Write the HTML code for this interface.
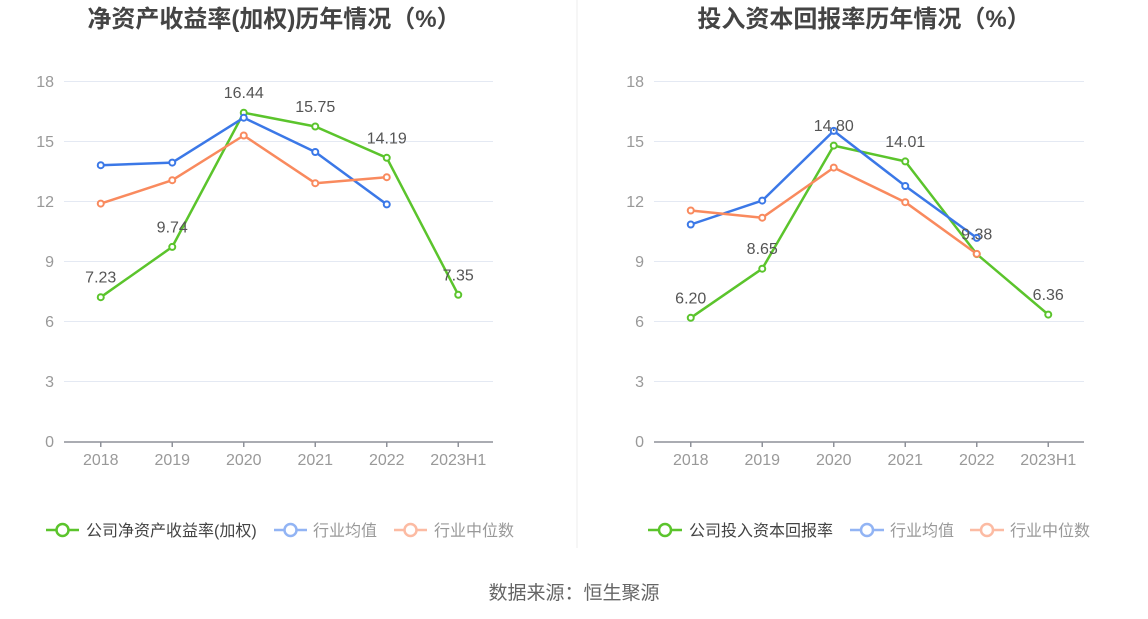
<!DOCTYPE html>
<html>
<head>
<meta charset="utf-8">
<style>
  html, body { margin:0; padding:0; background:#ffffff; }
  body { width:1148px; height:619px; overflow:hidden; }
  svg { display:block; }
  text { font-family: "Liberation Sans", "Noto Sans CJK SC", sans-serif; }
</style>
</head>
<body>
<svg width="1148" height="619" viewBox="0 0 1148 619" xmlns="http://www.w3.org/2000/svg">
  <rect x="0" y="0" width="1148" height="619" fill="#ffffff"/>
  <!-- separator -->
  <line x1="577" y1="0" x2="577" y2="548" stroke="#ececec" stroke-width="1"/>

  <!-- ===== LEFT CHART ===== -->
  <text x="274" y="27" text-anchor="middle" font-size="24" font-weight="bold" fill="#444">净资产收益率(加权)历年情况（%）</text>
  <g stroke="#e4e9f3" stroke-width="1">
    <line x1="64" y1="81.5" x2="493" y2="81.5"/>
    <line x1="64" y1="141.5" x2="493" y2="141.5"/>
    <line x1="64" y1="201.5" x2="493" y2="201.5"/>
    <line x1="64" y1="261.5" x2="493" y2="261.5"/>
    <line x1="64" y1="321.5" x2="493" y2="321.5"/>
    <line x1="64" y1="381.5" x2="493" y2="381.5"/>
  </g>
  <g font-size="16" fill="#999" text-anchor="end">
    <text x="54" y="87">18</text>
    <text x="54" y="147">15</text>
    <text x="54" y="207">12</text>
    <text x="54" y="267">9</text>
    <text x="54" y="327">6</text>
    <text x="54" y="387">3</text>
    <text x="54" y="447">0</text>
  </g>
  <line x1="64" y1="442" x2="493" y2="442" stroke="#8e9199" stroke-width="1.5"/>
  <g stroke="#8e9199" stroke-width="1.5">
    <line x1="100.75" y1="442" x2="100.75" y2="447"/>
    <line x1="172.25" y1="442" x2="172.25" y2="447"/>
    <line x1="243.75" y1="442" x2="243.75" y2="447"/>
    <line x1="315.25" y1="442" x2="315.25" y2="447"/>
    <line x1="386.75" y1="442" x2="386.75" y2="447"/>
    <line x1="458.25" y1="442" x2="458.25" y2="447"/>
  </g>
  <g font-size="16" fill="#999" text-anchor="middle">
    <text x="100.75" y="465">2018</text>
    <text x="172.25" y="465">2019</text>
    <text x="243.75" y="465">2020</text>
    <text x="315.25" y="465">2021</text>
    <text x="386.75" y="465">2022</text>
    <text x="458.25" y="465">2023H1</text>
  </g>
  <!-- series -->
  <g fill="none" stroke-width="2.5" stroke-linejoin="round">
    <polyline stroke="#5bc42c" points="100.75,297.2 172.25,246.9 243.75,112.7 315.25,126.5 386.75,157.8 458.25,294.8"/>
    <polyline stroke="#3b78e7" points="100.75,165.2 172.25,162.6 243.75,117.7 315.25,152.0 386.75,204.4"/>
    <polyline stroke="#f98a5e" points="100.75,203.6 172.25,180.2 243.75,135.5 315.25,183.2 386.75,177.2"/>
  </g>
  <g fill="#fff" stroke-width="2">
    <g stroke="#5bc42c">
      <circle cx="100.75" cy="297.2" r="3"/><circle cx="172.25" cy="246.9" r="3"/><circle cx="243.75" cy="112.7" r="3"/>
      <circle cx="315.25" cy="126.5" r="3"/><circle cx="386.75" cy="157.8" r="3"/><circle cx="458.25" cy="294.8" r="3"/>
    </g>
    <g stroke="#3b78e7">
      <circle cx="100.75" cy="165.2" r="3"/><circle cx="172.25" cy="162.6" r="3"/><circle cx="243.75" cy="117.7" r="3"/>
      <circle cx="315.25" cy="152.0" r="3"/><circle cx="386.75" cy="204.4" r="3"/>
    </g>
    <g stroke="#f98a5e">
      <circle cx="100.75" cy="203.6" r="3"/><circle cx="172.25" cy="180.2" r="3"/><circle cx="243.75" cy="135.5" r="3"/>
      <circle cx="315.25" cy="183.2" r="3"/><circle cx="386.75" cy="177.2" r="3"/>
    </g>
  </g>
  <g font-size="16" fill="#555" text-anchor="middle">
    <text x="100.75" y="282.7">7.23</text>
    <text x="172.25" y="232.4">9.74</text>
    <text x="243.75" y="98.2">16.44</text>
    <text x="315.25" y="112">15.75</text>
    <text x="386.75" y="143.3">14.19</text>
    <text x="458.25" y="280.3">7.35</text>
  </g>
  <!-- legend -->
  <g>
    <line x1="46" y1="530" x2="79" y2="530" stroke="#5bc42c" stroke-width="2.5"/>
    <circle cx="62.5" cy="530" r="6" fill="#fff" stroke="#5bc42c" stroke-width="2.5"/>
    <text x="86" y="536" font-size="16" fill="#444">公司净资产收益率(加权)</text>
    <line x1="274" y1="530" x2="307" y2="530" stroke="#92b4f4" stroke-width="2.5"/>
    <circle cx="290.5" cy="530" r="6" fill="#fff" stroke="#92b4f4" stroke-width="2.5"/>
    <text x="313" y="536" font-size="16" fill="#999">行业均值</text>
    <line x1="394" y1="530" x2="427" y2="530" stroke="#fcbba3" stroke-width="2.5"/>
    <circle cx="410.5" cy="530" r="6" fill="#fff" stroke="#fcbba3" stroke-width="2.5"/>
    <text x="434" y="536" font-size="16" fill="#999">行业中位数</text>
  </g>

  <!-- ===== RIGHT CHART ===== -->
  <text x="864" y="27" text-anchor="middle" font-size="24" font-weight="bold" fill="#444">投入资本回报率历年情况（%）</text>
  <g stroke="#e4e9f3" stroke-width="1">
    <line x1="654" y1="81.5" x2="1084" y2="81.5"/>
    <line x1="654" y1="141.5" x2="1084" y2="141.5"/>
    <line x1="654" y1="201.5" x2="1084" y2="201.5"/>
    <line x1="654" y1="261.5" x2="1084" y2="261.5"/>
    <line x1="654" y1="321.5" x2="1084" y2="321.5"/>
    <line x1="654" y1="381.5" x2="1084" y2="381.5"/>
  </g>
  <g font-size="16" fill="#999" text-anchor="end">
    <text x="644" y="87">18</text>
    <text x="644" y="147">15</text>
    <text x="644" y="207">12</text>
    <text x="644" y="267">9</text>
    <text x="644" y="327">6</text>
    <text x="644" y="387">3</text>
    <text x="644" y="447">0</text>
  </g>
  <line x1="654" y1="442" x2="1084" y2="442" stroke="#8e9199" stroke-width="1.5"/>
  <g stroke="#8e9199" stroke-width="1.5">
    <line x1="690.75" y1="442" x2="690.75" y2="447"/>
    <line x1="762.25" y1="442" x2="762.25" y2="447"/>
    <line x1="833.75" y1="442" x2="833.75" y2="447"/>
    <line x1="905.25" y1="442" x2="905.25" y2="447"/>
    <line x1="976.75" y1="442" x2="976.75" y2="447"/>
    <line x1="1048.25" y1="442" x2="1048.25" y2="447"/>
  </g>
  <g font-size="16" fill="#999" text-anchor="middle">
    <text x="690.75" y="465">2018</text>
    <text x="762.25" y="465">2019</text>
    <text x="833.75" y="465">2020</text>
    <text x="905.25" y="465">2021</text>
    <text x="976.75" y="465">2022</text>
    <text x="1048.25" y="465">2023H1</text>
  </g>
  <g fill="none" stroke-width="2.5" stroke-linejoin="round">
    <polyline stroke="#5bc42c" points="690.75,317.8 762.25,268.7 833.75,145.6 905.25,161.4 976.75,254.1 1048.25,314.6"/>
    <polyline stroke="#3b78e7" points="690.75,224.5 762.25,200.6 833.75,130.9 905.25,186.0 976.75,237.9"/>
    <polyline stroke="#f98a5e" points="690.75,210.5 762.25,217.7 833.75,167.6 905.25,202.2 976.75,253.9"/>
  </g>
  <g fill="#fff" stroke-width="2">
    <g stroke="#5bc42c">
      <circle cx="690.75" cy="317.8" r="3"/><circle cx="762.25" cy="268.7" r="3"/><circle cx="833.75" cy="145.6" r="3"/>
      <circle cx="905.25" cy="161.4" r="3"/><circle cx="976.75" cy="254.1" r="3"/><circle cx="1048.25" cy="314.6" r="3"/>
    </g>
    <g stroke="#3b78e7">
      <circle cx="690.75" cy="224.5" r="3"/><circle cx="762.25" cy="200.6" r="3"/><circle cx="833.75" cy="130.9" r="3"/>
      <circle cx="905.25" cy="186.0" r="3"/><circle cx="976.75" cy="237.9" r="3"/>
    </g>
    <g stroke="#f98a5e">
      <circle cx="690.75" cy="210.5" r="3"/><circle cx="762.25" cy="217.7" r="3"/><circle cx="833.75" cy="167.6" r="3"/>
      <circle cx="905.25" cy="202.2" r="3"/><circle cx="976.75" cy="253.9" r="3"/>
    </g>
  </g>
  <g font-size="16" fill="#555" text-anchor="middle">
    <text x="690.75" y="303.3">6.20</text>
    <text x="762.25" y="254.2">8.65</text>
    <text x="833.75" y="131.1">14.80</text>
    <text x="905.25" y="146.9">14.01</text>
    <text x="976.75" y="239.6">9.38</text>
    <text x="1048.25" y="300.1">6.36</text>
  </g>
  <g>
    <line x1="648" y1="530" x2="682" y2="530" stroke="#5bc42c" stroke-width="2.5"/>
    <circle cx="665" cy="530" r="6" fill="#fff" stroke="#5bc42c" stroke-width="2.5"/>
    <text x="689" y="536" font-size="16" fill="#444">公司投入资本回报率</text>
    <line x1="850" y1="530" x2="884" y2="530" stroke="#92b4f4" stroke-width="2.5"/>
    <circle cx="867" cy="530" r="6" fill="#fff" stroke="#92b4f4" stroke-width="2.5"/>
    <text x="890" y="536" font-size="16" fill="#999">行业均值</text>
    <line x1="970" y1="530" x2="1004" y2="530" stroke="#fcbba3" stroke-width="2.5"/>
    <circle cx="987" cy="530" r="6" fill="#fff" stroke="#fcbba3" stroke-width="2.5"/>
    <text x="1010" y="536" font-size="16" fill="#999">行业中位数</text>
  </g>

  <!-- footer -->
  <text x="574" y="599" text-anchor="middle" font-size="19" fill="#666">数据来源：恒生聚源</text>
</svg>
</body>
</html>
